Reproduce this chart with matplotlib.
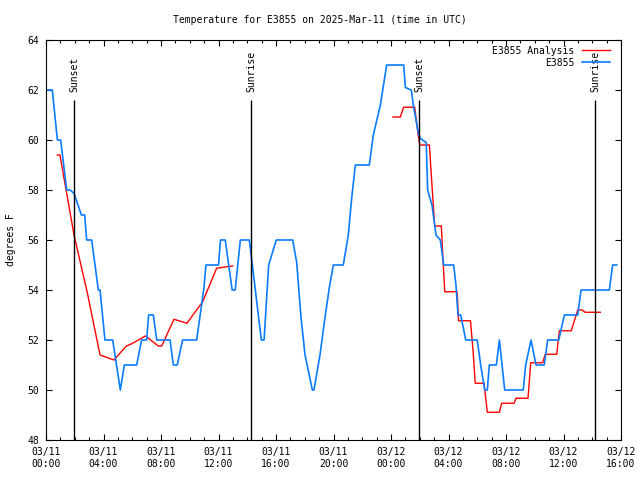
import matplotlib.pyplot as plt
import numpy as np

plt.rcParams['font.family'] = 'DejaVu Sans Mono'
plt.rcParams['font.size'] = 7

# hours since 03/11 00:00 UTC
obs_hours = [0, 0.44, 0.79, 1.02, 1.44, 1.67, 1.95, 2.46, 2.69, 2.83, 3.18, 3.64, 3.76,
             4.1, 4.64, 5.17, 5.45, 6.31, 6.65, 7.0, 7.14, 7.47, 7.7, 8.63, 8.86, 9.13,
             9.5, 10.48, 10.97, 11.13, 12.0, 12.14, 12.47, 12.95, 13.16, 13.52, 14.14,
             14.25, 14.98, 15.17, 15.49, 16.02, 17.16, 17.44, 17.74, 18.02, 18.53, 18.64,
             19.06, 19.36, 19.71, 19.99, 20.68, 21.03, 21.27, 21.52, 22.49, 22.77, 23.26,
             23.7, 24.88, 25.0, 25.41, 25.58, 25.93, 26.07, 26.45, 26.55, 26.85, 27.13,
             27.43, 27.67, 28.36, 28.52, 28.66, 28.85, 29.2, 30.0, 30.24, 30.52, 30.7,
             30.84, 31.33, 31.54, 31.91, 33.2, 33.37, 33.74, 34.09, 34.66, 34.9, 35.67,
             36.06, 36.99, 37.22, 39.19, 39.42, 39.7]
obs_temp = [62, 62, 60, 60, 58, 58, 57.87, 57, 57, 56, 56, 54, 54,
            52, 52, 50, 51, 51, 52, 52, 53, 53, 52, 52, 51, 51,
            52, 52, 54, 55, 55, 56, 56, 54, 54, 56, 56,
            55.5, 52, 52, 55, 56, 56, 55.1, 52.9, 51.4, 50, 50,
            51.4, 52.7, 54.1, 55, 55, 56.2, 57.7, 59, 59, 60.2, 61.4,
            63, 63, 62.1, 62, 61.3, 60.2, 60.05, 59.9, 58, 57.4, 56.2,
            56, 55, 55, 54.2, 53, 53, 52, 52, 51, 50, 50,
            51, 51, 52, 50, 50, 51, 52, 51, 51, 52, 52,
            53, 53, 54, 54, 55, 55]

ana_hours = [0.79, 0.97, 1.95, 2.87, 3.76, 4.73, 5.57, 6.03, 6.91, 7.12, 7.81, 8.05,
             8.9, 9.8, 10.9, 11.87, 12.57, 12.99, np.nan,
             24.14, 24.65, 24.88, 25.65, 25.86, 26.0, 26.67, 26.85, 27.04, 27.5, 27.6,
             27.74, 28.6, 28.7, 29.53, 29.72, 29.86, 30.47, 30.7, 31.54, 31.7, 32.56,
             32.7, 33.53, 33.72, 34.55, 34.73, 35.53, 35.71, 36.54, 36.99, 37.3, 37.5,
             38.56]
ana_temp = [59.4, 59.4, 56.2, 53.9, 51.4, 51.2, 51.75, 51.87, 52.16, 52.07, 51.76, 51.76,
            52.83, 52.67, 53.53, 54.87, 54.93, 54.96, np.nan,
            60.92, 60.92, 61.31, 61.31, 60.33, 59.8, 59.8, 58.2, 56.56, 56.56, 55.4,
            53.93, 53.93, 52.77, 52.77, 51.47, 50.27, 50.27, 49.11, 49.11, 49.47, 49.47,
            49.67, 49.67, 51.09, 51.09, 51.43, 51.43, 52.37, 52.37, 53.2, 53.2, 53.11,
            53.11]

sun_hours = [1.97, 14.28, 25.97, 38.2]
sun_labels = ['Sunset', 'Sunrise', 'Sunset', 'Sunrise']

tick_hours = [0, 4, 8, 12, 16, 20, 24, 28, 32, 36, 40]
tick_labels = ['03/11\n00:00', '03/11\n04:00', '03/11\n08:00', '03/11\n12:00',
               '03/11\n16:00', '03/11\n20:00', '03/12\n00:00', '03/12\n04:00',
               '03/12\n08:00', '03/12\n12:00', '03/12\n16:00']

fig = plt.figure(figsize=(6.4, 4.8), dpi=100)
ax = fig.add_axes([46/640, 40/480, 575/640, 400/480])

ax.plot(ana_hours, ana_temp, color='red', lw=1.0, label='E3855 Analysis')
ax.plot(obs_hours, obs_temp, color='#0a7cff', lw=1.2, label='E3855')

for h, s in zip(sun_hours, sun_labels):
    ax.vlines(h, 48, 61.6, color='black', lw=1.0)
    ax.text(h, 61.9, s, rotation=90, ha='center', va='bottom')

ax.set_xlim(0, 40)
ax.set_ylim(48, 64)
ax.set_xticks(tick_hours)
ax.set_xticklabels(tick_labels)
ax.set_xticks(np.arange(0, 41, 1), minor=True)
ax.set_yticks(np.arange(48, 65, 2))
ax.tick_params(which='both', direction='in', top=True, right=True, width=0.8)
ax.tick_params(which='major', length=4, pad=5)
ax.tick_params(which='minor', length=2.2)
for sp in ax.spines.values():
    sp.set_linewidth(0.8)

ax.set_ylabel('degrees F', labelpad=8)
fig.text(0.5, 1 - 20/480, 'Temperature for E3855 on 2025-Mar-11 (time in UTC)',
         ha='center', va='center')

ax.legend(loc='upper right', bbox_to_anchor=(0.988, 0.995), frameon=False,
          markerfirst=False, handlelength=2.9, borderaxespad=0, labelspacing=0.2,
          handletextpad=0.8)

fig.savefig('out.png', dpi=100)
